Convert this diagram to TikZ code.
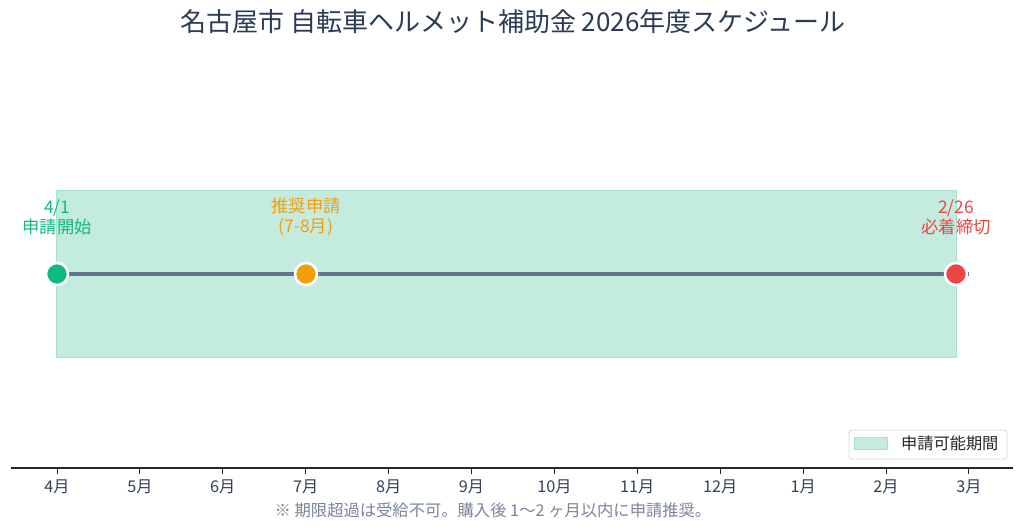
\documentclass[tikz,border=0pt]{standalone}
\usepackage{fontspec}
\setmainfont{Noto Sans CJK JP}
\definecolor{titlec}{HTML}{2B3A55}
\definecolor{axisc}{HTML}{334155}
\definecolor{notec}{HTML}{7A8598}
\definecolor{linec}{HTML}{64748B}
\definecolor{periodfill}{HTML}{C3ECDF}
\definecolor{perioddraw}{HTML}{A6E2CE}
\definecolor{gstart}{HTML}{10B981}
\definecolor{orec}{HTML}{F59E0B}
\definecolor{rend}{HTML}{EF4444}
\definecolor{legdraw}{HTML}{D6D9DE}
\tikzset{
  dot/.style={circle, draw=white, line width=2.5pt, minimum size=22pt, inner sep=0pt},
  evlabel/.style={font=\fontsize{17.3}{20}\selectfont, align=center, inner sep=0pt},
  month/.style={font=\fontsize{16.2}{19}\selectfont, text=axisc, inner sep=0pt, anchor=center},
  tickmark/.style={draw=black!85, line width=1pt},
}
\begin{document}
\begin{tikzpicture}[x=1pt,y=-1pt]
\useasboundingbox (0,0) rectangle (1024,531);
% title
\node[font=\fontsize{26}{30}\selectfont, text=titlec, inner sep=0pt] (title) at (513,22) {名古屋市 自転車ヘルメット補助金 2026年度スケジュール};
% period band
\fill[periodfill] (56,190) rectangle (956,357);
\draw[perioddraw, line width=1pt] (56,190) rectangle (956,357);
% timeline
\coordinate (tend) at (969,274);
\coordinate (tstart) at (57,274);
\draw[linec, line width=3.2pt] (tstart) -- (tend);
\node[dot, fill=gstart] (d1) at (57,274) {};
\node[dot, fill=orec] (d2) at (306,274) {};
\node[dot, fill=rend] (d3) at (956,274) {};
% labels
\node[evlabel, text=gstart] (l1) at (57,217) {4/1\\申請開始};
\node[evlabel, text=orec] (l2) at (306,217) {推奨申請\\(7-8月)};
\node[evlabel, text=rend] (l3) at (956,217) {2/26\\必着締切};
% axis
\coordinate (axL) at (11,468);
\coordinate (axR) at (1013,468);
\draw[black!85, line width=1.1pt] (axL) -- (axR);
\foreach \m [count=\i from 0] in {4,5,6,7,8,9,10,11,12,1,2,3} {
  \coordinate (t\i) at ({57+82.9*\i},468);
  \draw[tickmark] (t\i) -- ++(0,5.5);
  \node[month] (m\i) at ({57+82.9*\i},487) {\m 月};
}
% footnote
\node[font=\fontsize{16.3}{19}\selectfont, text=notec, inner sep=0pt] (note) at (493,510) {※ 期限超過は受給不可。購入後 1〜2 ヶ月以内に申請推奨。};
% legend
\node[draw=legdraw, line width=0.9pt, rounded corners=3pt, fill=white, minimum width=158pt, minimum height=29pt, inner sep=0pt] (legend) at (928,444.5) {};
\node[fill=periodfill, draw=perioddraw, line width=0.6pt, minimum width=33pt, minimum height=12pt, inner sep=0pt] (legpatch) at (871,443) {};
\node[font=\fontsize{16.2}{19}\selectfont, text=black!85, inner sep=0pt, anchor=west] (legtext) at (901,443) {申請可能期間};
\end{tikzpicture}
\end{document}
